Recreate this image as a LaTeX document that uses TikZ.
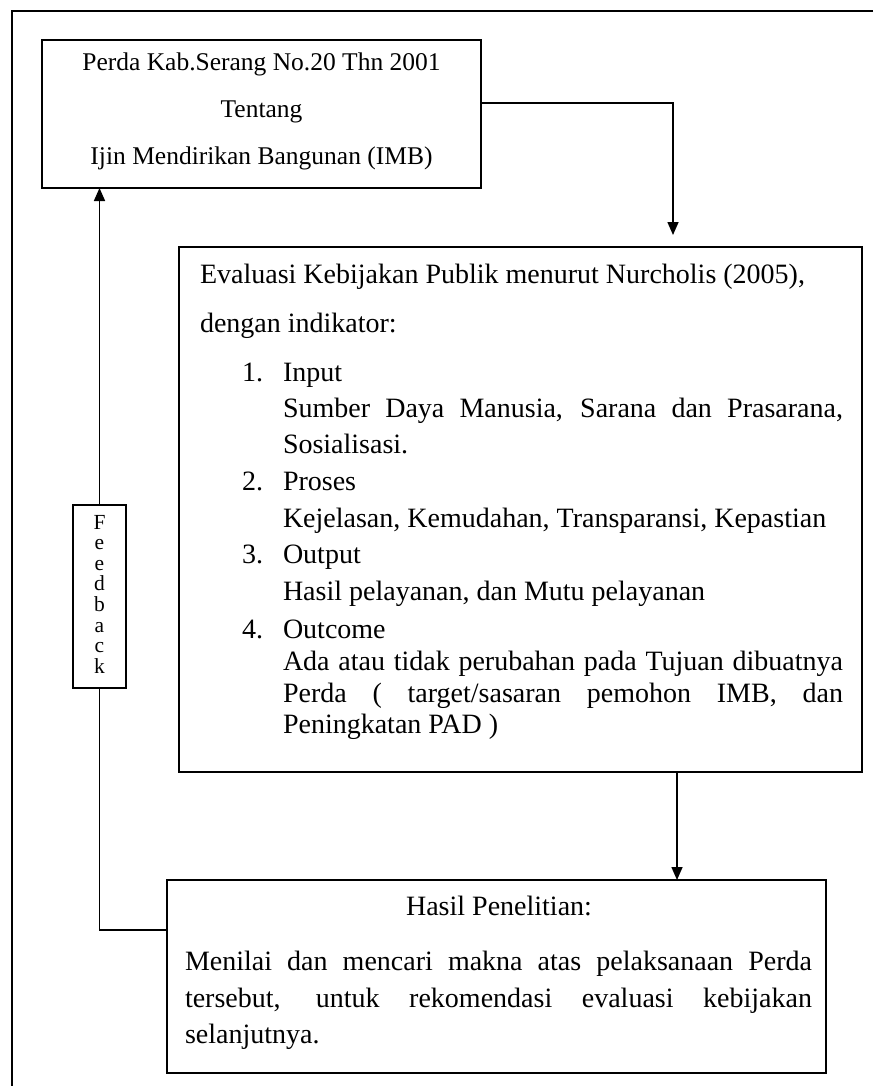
\documentclass[tikz,border=0pt]{standalone}
\usepackage{fontspec}
\setmainfont{Liberation Serif}
\usetikzlibrary{arrows.meta}
\begin{document}
\begin{tikzpicture}[x=1pt,y=-1pt,
  box/.style={draw, line width=1.6pt, inner sep=0pt, outer sep=0pt, anchor=north west},
  conn/.style={line width=1.6pt},
  arr/.style={line width=1.6pt, -{Triangle[length=13pt,width=11pt]}},
  tb/.style={inner sep=0pt, outer sep=0pt, font=\fontsize{25.5}{30}\selectfont},
  tx/.style={inner sep=0pt, outer sep=0pt, anchor=base west, font=\fontsize{28}{33}\selectfont},
  fbl/.style={inner sep=0pt, outer sep=0pt, anchor=base, font=\fontsize{21.5}{24}\selectfont}]
\useasboundingbox (0,0) rectangle (873,1086);
% outer frame (open at right and bottom)
\coordinate (fr1) at (873,11);
\coordinate (fr2) at (12,11);
\coordinate (fr3) at (12,1086);
\draw[line width=2pt] (fr1) -- (fr2) -- (fr3);
% boxes
\node[box, minimum width=439pt, minimum height=148pt] (b1) at (42,40) {};
\node[box, minimum width=683pt, minimum height=525pt] (b2) at (179,247) {};
\node[box, minimum width=659pt, minimum height=193pt] (b3) at (167,880) {};
\node[box, minimum width=53pt, minimum height=183pt] (fb) at (73,505) {};
% box 1 text
\node[tb, anchor=base] (t11) at (261.5,71) {Perda Kab.Serang No.20 Thn 2001};
\node[tb, anchor=base] (t12) at (261.5,118) {Tentang};
\node[tb, anchor=base] (t13) at (261.5,165) {Ijin Mendirikan Bangunan (IMB)};
% box 2 text
\node[tx] (t21) at (200,283) {Evaluasi Kebijakan Publik menurut Nurcholis (2005),};
\node[tx] (t22) at (200,332) {dengan indikator:};
\node[tx] (n1) at (242,381) {1.};
\node[tx] (i1) at (283,381) {Input};
\node[tx] (i1a) at (283,417) {\makebox[560pt][s]{Sumber Daya Manusia, Sarana dan Prasarana,}};
\node[tx] (i1b) at (283,453) {Sosialisasi.};
\node[tx] (n2) at (242,490) {2.};
\node[tx] (i2) at (283,490) {Proses};
\node[tx] (i2a) at (283,527) {Kejelasan, Kemudahan, Transparansi, Kepastian};
\node[tx] (n3) at (242,563) {3.};
\node[tx] (i3) at (283,563) {Output};
\node[tx] (i3a) at (283,600) {Hasil pelayanan, dan Mutu pelayanan};
\node[tx] (n4) at (242,638) {4.};
\node[tx] (i4) at (283,638) {Outcome};
\node[tx] (i4a) at (283,670) {\makebox[560pt][s]{Ada atau tidak perubahan pada Tujuan dibuatnya}};
\node[tx] (i4b) at (283,702) {\makebox[560pt][s]{Perda ( target/sasaran pemohon IMB, dan}};
\node[tx] (i4c) at (283,733) {Peningkatan PAD )};
% box 3 text
\node[tx, anchor=base] (t31) at (499,915) {Hasil Penelitian:};
\node[tx] (t32) at (185,970) {\makebox[627pt][s]{Menilai dan mencari makna atas pelaksanaan Perda}};
\node[tx] (t33) at (185,1007) {\makebox[627pt][s]{tersebut, untuk rekomendasi evaluasi kebijakan}};
\node[tx] (t34) at (185,1043) {selanjutnya.};
% feedback letters
\foreach \l [count=\i] in {F,e,e,d,b,a,c,k} {
  \node[fbl] (fbl\i) at (99.5,{529+20.6*(\i-1)}) {\l};
}
% connectors
\coordinate (c1) at (673,103);
\draw[arr, shorten >=12pt] (b1.east |- c1) -- (c1) -- (c1 |- b2.north);
\coordinate (c2) at (677,0);
\draw[arr] (c2 |- b2.south) -- (c2 |- b3.north);
\coordinate (c3) at (0,930);
\draw[conn] (b3.west |- c3) -| (fb.south);
\draw[arr] (fb.north) -- (fb.north |- b1.south);
\end{tikzpicture}
\end{document}
